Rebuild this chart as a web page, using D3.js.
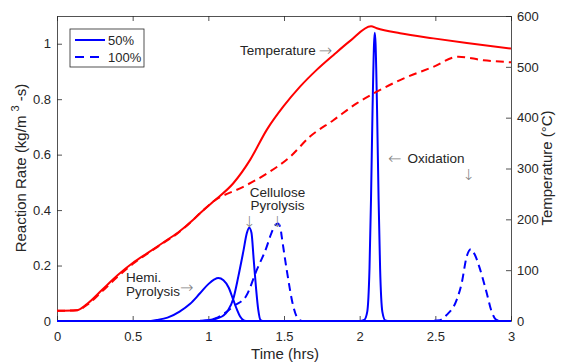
<html>
<script src='https://d3js.org/d3.v7.min.js'></script>
<style>
    body { margin: 0; background: white; }
    text { font-family: 'Liberation Sans', Arial, sans-serif; fill: #262626; }
</style>
<body>
<svg width=562 height=363></svg>
<script>
// time axis ticks
var timeTicks = [0, 0.5, 1, 1.5, 2, 2.5, 3];
var rateTicks = [0, 0.2, 0.4, 0.6, 0.8, 1];
var tempTicks = [0, 100, 200, 300, 400, 500, 600];

// temperature, 50% (solid)
var temp50T = [0, 0.13, 0.2, 0.3, 0.4, 0.5, 0.6, 0.7, 0.8, 0.9, 0.945, 1.033, 1.165, 1.276, 1.386, 1.496, 1.606, 1.716, 1.826, 1.937, 2.075, 2.113, 2.267, 2.487, 2.708, 3.0];
var temp50 = [20, 21, 34, 62, 90, 114, 134, 154, 174, 199, 212, 235, 271, 317, 376, 422, 461, 494, 523, 551, 580, 576, 566, 556, 547, 536];

// temperature, 100% (dashed)
var temp100T = [0, 0.13, 0.2, 0.3, 0.4, 0.5, 0.6, 0.7, 0.8, 0.9, 0.945, 1.033, 1.231, 1.386, 1.54, 1.672, 1.826, 1.98, 2.113, 2.267, 2.487, 2.652, 2.818, 3.0];
var temp100 = [20, 21, 32, 59, 87, 112, 133, 153, 173, 199, 212, 235, 264, 290, 323, 363, 395, 428, 451, 474, 500, 520, 513, 509];

// reaction rates, 50%
var hemi50T = [0, 0.6, 0.66, 0.73, 0.81, 0.88, 0.945, 1.0, 1.04, 1.066, 1.1, 1.135, 1.165, 1.19, 1.21, 1.235, 1.26, 3];
var hemi50 = [0, 0, 0.004, 0.012, 0.034, 0.062, 0.1, 0.133, 0.15, 0.155, 0.147, 0.12, 0.076, 0.04, 0.016, 0.002, 0, 0];
var cell50T = [0, 0.95, 1.0, 1.06, 1.1, 1.132, 1.165, 1.198, 1.231, 1.255, 1.27, 1.285, 1.3, 1.315, 1.33, 1.345, 1.36, 3];
var cell50 = [0, 0, 0.003, 0.01, 0.02, 0.04, 0.08, 0.16, 0.25, 0.318, 0.336, 0.318, 0.22, 0.12, 0.04, 0.003, 0, 0];
var oxid50T = [0, 2.0, 2.03, 2.05, 2.065, 2.075, 2.085, 2.095, 2.1, 2.105, 2.115, 2.125, 2.135, 2.15, 2.17, 2.2, 3];
var oxid50 = [0, 0, 0.004, 0.033, 0.19, 0.44, 0.76, 1.0, 1.04, 1.0, 0.76, 0.44, 0.19, 0.033, 0.002, 0, 0];

// reaction rates, 100%
var pyro100T = [0, 0.9, 0.98, 1.05, 1.1, 1.17, 1.25, 1.32, 1.386, 1.408, 1.435, 1.458, 1.475, 1.485, 1.518, 1.562, 1.59, 1.62, 3];
var pyro100 = [0, 0, 0.002, 0.01, 0.025, 0.055, 0.09, 0.184, 0.268, 0.304, 0.34, 0.352, 0.34, 0.304, 0.184, 0.052, 0.01, 0, 0];
var oxid100T = [0, 2.45, 2.53, 2.575, 2.641, 2.674, 2.707, 2.734, 2.762, 2.79, 2.84, 2.872, 2.905, 2.95, 3];
var oxid100 = [0, 0, 0.003, 0.022, 0.076, 0.136, 0.232, 0.259, 0.238, 0.196, 0.1, 0.034, 0.004, 0, 0];

var legendLabels = ['50%', '100%'];

var svg = d3.select('svg');
var x = d3.scaleLinear().domain([0, 3]).range([57, 511]);
var yL = d3.scaleLinear().domain([0, 1.1]).range([321, 16]);
var yR = d3.scaleLinear().domain([0, 600]).range([321, 16]);

// axes, matlab style ticks pointing inwards
svg.append('g')
    .attr('transform', 'translate(0,321)')
    .call(d3.axisBottom(x).tickValues(timeTicks).tickFormat(d3.format('')).tickSizeInner(-5).tickSizeOuter(0).tickPadding(11));
svg.append('g')
    .attr('transform', 'translate(0,16)')
    .call(d3.axisTop(x).tickValues(timeTicks).tickFormat('').tickSizeInner(-5).tickSizeOuter(0));
svg.append('g')
    .attr('transform', 'translate(57,0)')
    .call(d3.axisLeft(yL).tickValues(rateTicks).tickFormat(d3.format('')).tickSizeInner(-5).tickSizeOuter(0).tickPadding(6));
svg.append('g')
    .attr('transform', 'translate(511,0)')
    .call(d3.axisRight(yR).tickValues(tempTicks).tickSizeInner(-5).tickSizeOuter(0).tickPadding(6));

svg.selectAll('.tick text').style('font-size', '13px').style('font-family', "'Liberation Sans', Arial, sans-serif").attr('fill', '#262626');
svg.selectAll('.domain, .tick line').attr('stroke', '#262626').attr('stroke-width', 0.8);

// rate curves
var rateLine = d3.line().curve(d3.curveMonotoneX)
    .x(function(d) { return x(d[0]); })
    .y(function(d) { return yL(d[1]); });
var tempLine = d3.line().curve(d3.curveMonotoneX)
    .x(function(d) { return x(d[0]); })
    .y(function(d) { return yR(d[1]); });

function zip(a, b) { return a.map(function(t, i) { return [t, b[i]]; }); }

var rates = [
    {t: hemi50T, v: hemi50, dash: null},
    {t: cell50T, v: cell50, dash: null},
    {t: oxid50T, v: oxid50, dash: null},
    {t: pyro100T, v: pyro100, dash: '8,5'},
    {t: oxid100T, v: oxid100, dash: '8,5'}
];
svg.append('g')
    .selectAll('path')
    .data(rates)
    .enter()
    .append('path')
    .attr('d', function(d) { return rateLine(zip(d.t, d.v)); })
    .attr('fill', 'none')
    .attr('stroke', '#0000ff')
    .attr('stroke-width', 2)
    .attr('stroke-dasharray', function(d) { return d.dash; });

var temps = [
    {t: temp50T, v: temp50, dash: null},
    {t: temp100T, v: temp100, dash: '8,5'}
];
svg.append('g')
    .selectAll('path')
    .data(temps)
    .enter()
    .append('path')
    .attr('d', function(d) { return tempLine(zip(d.t, d.v)); })
    .attr('fill', 'none')
    .attr('stroke', '#ff0000')
    .attr('stroke-width', 2)
    .attr('stroke-dasharray', function(d) { return d.dash; });

// axis labels
svg.append('text')
    .attr('transform', 'translate(285,359)')
    .attr('text-anchor', 'middle')
    .style('font-size', '15px')
    .text('Time (hrs)');

var yl = svg.append('text')
    .attr('transform', 'translate(26,168) rotate(-90)')
    .attr('text-anchor', 'middle')
    .style('font-size', '15px');
yl.append('tspan').text('Reaction Rate (kg/m ');
yl.append('tspan').attr('dy', -7).style('font-size', '11px').text('3');
yl.append('tspan').attr('dy', 7).text(' -s)');

svg.append('text')
    .attr('transform', 'translate(552,168) rotate(-90)')
    .attr('text-anchor', 'middle')
    .style('font-size', '15px')
    .text('Temperature (°C)');

// legend
var legend = svg.append('g');
legend.append('rect')
    .attr('x', 70).attr('y', 29).attr('width', 74).attr('height', 38)
    .attr('fill', 'white').attr('stroke', '#262626').attr('stroke-width', 0.8);
legend.selectAll('line')
    .data(legendLabels)
    .enter()
    .append('line')
    .attr('x1', 75).attr('x2', 105)
    .attr('y1', function(d, i) { return 40 + i * 17; })
    .attr('y2', function(d, i) { return 40 + i * 17; })
    .attr('stroke', '#0000ff').attr('stroke-width', 2)
    .attr('stroke-dasharray', function(d, i) { return i ? '9,6' : null; });
legend.selectAll('text')
    .data(legendLabels)
    .enter()
    .append('text')
    .attr('x', 108)
    .attr('y', function(d, i) { return 44.5 + i * 17; })
    .style('font-size', '13px')
    .text(function(d) { return d; });

// annotations
var arrowFont = "'DejaVu Sans', sans-serif";
var t1 = svg.append('text').attr('x', 240).attr('y', 54.5).style('font-size', '13.5px');
t1.append('tspan').text('Temperature');
t1.append('tspan').attr('dx', 3).attr('dy', 1).style('font-family', arrowFont).style('font-weight', 200).style('font-size', '16px').style('fill', '#808080').text('→');

svg.append('text').attr('x', 126).attr('y', 282).style('font-size', '13.5px').text('Hemi.');
var t2 = svg.append('text').attr('x', 126).attr('y', 295.5).style('font-size', '13.5px');
t2.append('tspan').text('Pyrolysis');
t2.append('tspan').attr('dy', -3).style('font-family', arrowFont).style('font-weight', 200).style('font-size', '16px').style('fill', '#808080').text('→');

svg.append('text').attr('x', 277.5).attr('y', 196.5).attr('text-anchor', 'middle').style('font-size', '13.5px').text('Cellulose');
svg.append('text').attr('x', 277.5).attr('y', 210).attr('text-anchor', 'middle').style('font-size', '13.5px').text('Pyrolysis');
svg.selectAll('.down')
    .data([1.27, 1.455, 2.72])
    .enter()
    .append('text')
    .attr('class', 'down')
    .attr('x', function(d) { return x(d); })
    .attr('y', function(d) { return d > 2 ? 180 : 227; })
    .attr('text-anchor', 'middle')
    .style('font-size', '15px')
    .style('font-family', arrowFont)
    .style('font-weight', 200)
    .style('fill', '#808080')
    .text('↓');

var t3 = svg.append('text').attr('x', 388).attr('y', 162.5).style('font-size', '13.5px');
t3.append('tspan').attr('dy', 1).style('font-family', arrowFont).style('font-weight', 200).style('font-size', '16px').style('fill', '#808080').text('←');
t3.append('tspan').attr('dx', 6).attr('dy', -1).text('Oxidation');
</script>
</body>
</html>
